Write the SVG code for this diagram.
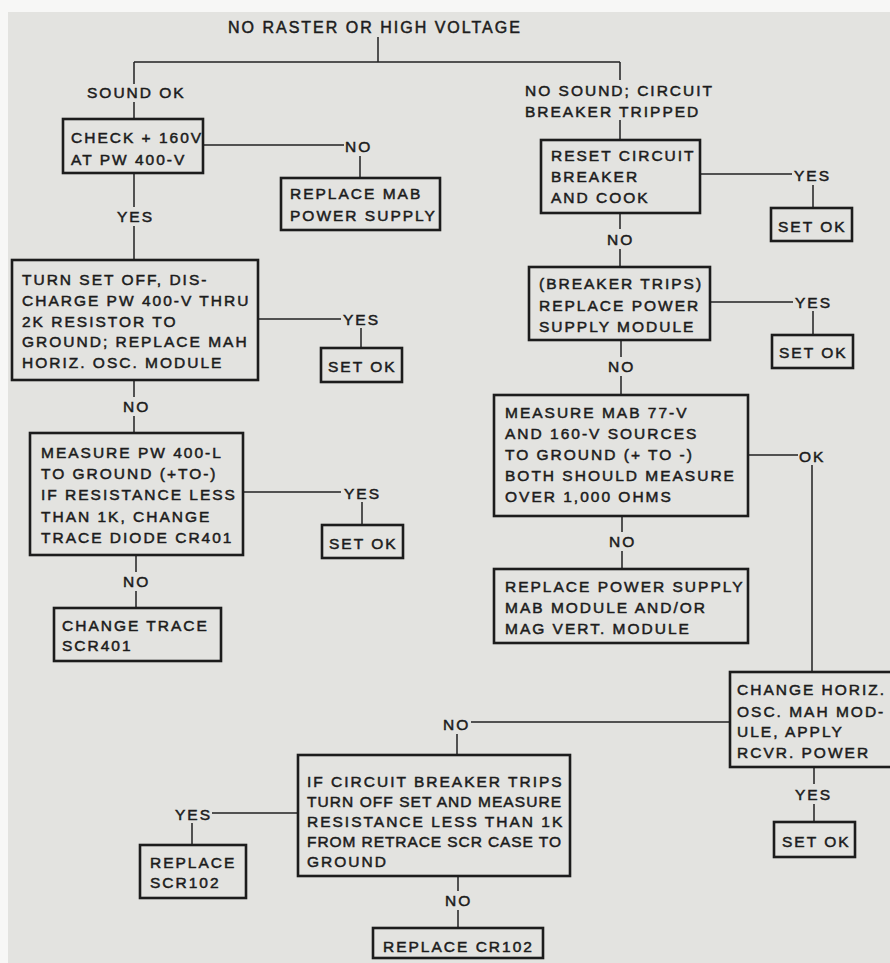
<svg xmlns="http://www.w3.org/2000/svg" width="890" height="963" viewBox="0 0 890 963">
<style>
text{font-family:"Liberation Sans",Arial,sans-serif;font-size:15.5px;letter-spacing:2px;fill:#1c1c1c;stroke:#1c1c1c;stroke-width:0.5px}
.title{font-size:16px;letter-spacing:2px}
.box{fill:none;stroke:#1c1c1c;stroke-width:2.6}
.con path{fill:none;stroke:#222;stroke-width:1.5}
</style>
<rect x="0" y="0" width="890" height="963" fill="#f7f7f6"/>
<rect x="8" y="12" width="890" height="960" fill="#e3e3e0"/>
<g id="connectors" class="con">
<path d="M378,37V62M134,62H620M134,62V84M134,102V119"/>
<path d="M203,145H344M360,156V178"/>
<path d="M134,173V207M134,226V260"/>
<path d="M258,319H341M361,328V348"/>
<path d="M134,380V397M134,416V433"/>
<path d="M243,492H341M362,502V525"/>
<path d="M136,555V572M136,591V608"/>
<path d="M620,62V80M620,120V140"/>
<path d="M700,174H792M813,185V208"/>
<path d="M620,213V229M620,249V267"/>
<path d="M710,302H793M813,311V335"/>
<path d="M621,340V357M621,376V395"/>
<path d="M748,455H798M812,465V672"/>
<path d="M622,516V532M622,551V569"/>
<path d="M730,722H471M457,734V755"/>
<path d="M298,813H212M192,823V845"/>
<path d="M458,876V891M458,910V928"/>
<path d="M814,767V784M814,804V822"/>
</g>
<g id="labels">
<text class="title" x="228" y="33">NO RASTER OR HIGH VOLTAGE</text>
<text x="87" y="98">SOUND OK</text>
<text x="345" y="152">NO</text>
<text x="117" y="222">YES</text>
<text x="343" y="325">YES</text>
<text x="123" y="412">NO</text>
<text x="344" y="499">YES</text>
<text x="123" y="587">NO</text>
<text x="525" y="96">NO SOUND; CIRCUIT</text>
<text x="525" y="117">BREAKER TRIPPED</text>
<text x="794" y="181">YES</text>
<text x="607" y="245">NO</text>
<text x="795" y="308">YES</text>
<text x="608" y="372">NO</text>
<text x="799" y="462">OK</text>
<text x="609" y="547">NO</text>
<text x="443" y="730">NO</text>
<text x="175" y="820">YES</text>
<text x="445" y="906">NO</text>
<text x="795" y="800">YES</text>
</g>
<g id="check160">
<rect class="box" x="63" y="119" width="140" height="54"/>
<text x="71" y="143">CHECK + 160V</text>
<text x="71" y="165">AT PW 400-V</text>
</g>
<g id="replaceMab">
<rect class="box" x="281" y="178" width="159" height="52"/>
<text x="290" y="199">REPLACE MAB</text>
<text x="290" y="221">POWER SUPPLY</text>
</g>
<g id="turnSetOff">
<rect class="box" x="12" y="260" width="246" height="120"/>
<text x="22" y="285">TURN SET OFF, DIS-</text>
<text x="22" y="306">CHARGE PW 400-V THRU</text>
<text x="22" y="327">2K RESISTOR TO</text>
<text x="22" y="347">GROUND; REPLACE MAH</text>
<text x="22" y="368">HORIZ. OSC. MODULE</text>
</g>
<g id="setok1">
<rect class="box" x="321" y="348" width="81" height="34"/>
<text x="328" y="372">SET OK</text>
</g>
<g id="measurePw">
<rect class="box" x="30" y="433" width="213" height="122"/>
<text x="41" y="458">MEASURE PW 400-L</text>
<text x="41" y="479">TO GROUND (+TO-)</text>
<text x="41" y="500">IF RESISTANCE LESS</text>
<text x="41" y="522">THAN 1K, CHANGE</text>
<text x="41" y="543">TRACE DIODE CR401</text>
</g>
<g id="setok2">
<rect class="box" x="322" y="525" width="81" height="33"/>
<text x="329" y="549">SET OK</text>
</g>
<g id="changeTrace">
<rect class="box" x="54" y="608" width="167" height="53"/>
<text x="62" y="631">CHANGE TRACE</text>
<text x="62" y="651">SCR401</text>
</g>
<g id="resetBreaker">
<rect class="box" x="541" y="140" width="159" height="73"/>
<text x="551" y="161">RESET CIRCUIT</text>
<text x="551" y="182">BREAKER</text>
<text x="551" y="203">AND COOK</text>
</g>
<g id="setok3">
<rect class="box" x="771" y="208" width="81" height="33"/>
<text x="778" y="232">SET OK</text>
</g>
<g id="breakerTrips">
<rect class="box" x="529" y="267" width="181" height="73"/>
<text x="539" y="289">(BREAKER TRIPS)</text>
<text x="539" y="311">REPLACE POWER</text>
<text x="539" y="332">SUPPLY MODULE</text>
</g>
<g id="setok4">
<rect class="box" x="772" y="335" width="81" height="33"/>
<text x="779" y="358">SET OK</text>
</g>
<g id="measureMab">
<rect class="box" x="494" y="395" width="254" height="121"/>
<text x="505" y="418">MEASURE MAB 77-V</text>
<text x="505" y="439">AND 160-V SOURCES</text>
<text x="505" y="460">TO GROUND (+ TO -)</text>
<text x="505" y="481">BOTH SHOULD MEASURE</text>
<text x="505" y="502">OVER 1,000 OHMS</text>
</g>
<g id="replacePsu">
<rect class="box" x="494" y="569" width="254" height="74"/>
<text x="505" y="592">REPLACE POWER SUPPLY</text>
<text x="505" y="613">MAB MODULE AND/OR</text>
<text x="505" y="634">MAG VERT. MODULE</text>
</g>
<g id="changeHoriz">
<rect class="box" x="730" y="672" width="175" height="95"/>
<text x="737" y="695">CHANGE HORIZ.</text>
<text x="737" y="717">OSC. MAH MOD-</text>
<text x="737" y="737">ULE, APPLY</text>
<text x="737" y="758">RCVR. POWER</text>
</g>
<g id="setok5">
<rect class="box" x="774" y="822" width="81" height="35"/>
<text x="782" y="847">SET OK</text>
</g>
<g id="ifBreaker">
<rect class="box" x="298" y="755" width="272" height="121"/>
<text x="307" y="787">IF CIRCUIT BREAKER TRIPS</text>
<text x="307" y="807" textLength="256" lengthAdjust="spacing">TURN OFF SET AND MEASURE</text>
<text x="307" y="827">RESISTANCE LESS THAN 1K</text>
<text x="307" y="847" textLength="256" lengthAdjust="spacing">FROM RETRACE SCR CASE TO</text>
<text x="307" y="867">GROUND</text>
</g>
<g id="replaceScr">
<rect class="box" x="140" y="845" width="106" height="53"/>
<text x="150" y="868">REPLACE</text>
<text x="150" y="888">SCR102</text>
</g>
<g id="replaceCr">
<rect class="box" x="373" y="928" width="170" height="30"/>
<text x="383" y="952">REPLACE CR102</text>
</g>
</svg>
